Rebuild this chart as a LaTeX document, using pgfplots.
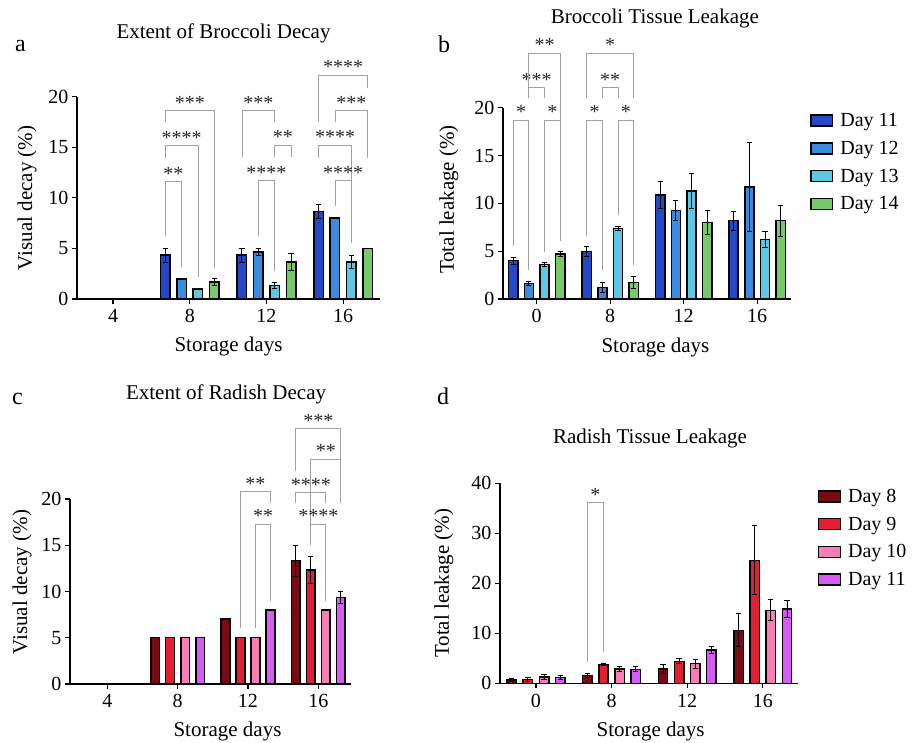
\documentclass[border=0pt]{standalone}
\usepackage{pgfplots}
\pgfplotsset{compat=1.18}
\usepackage{fontspec}
\setmainfont{Liberation Serif}

\definecolor{bA}{HTML}{2349C9}
\definecolor{bB}{HTML}{3A8AE0}
\definecolor{bC}{HTML}{5CC8E3}
\definecolor{bD}{HTML}{78C96A}
\definecolor{rA}{HTML}{7A0A14}
\definecolor{rB}{HTML}{E41E33}
\definecolor{rC}{HTML}{F77EB4}
\definecolor{rD}{HTML}{D95BF5}
\definecolor{brkc}{HTML}{A0A0A0}

\newcommand{\brk}[6]{%
  \draw[brkc, line width=0.8pt] (axis cs:#1,#4) |- node[pos=0.75, anchor=base, inner sep=0pt, yshift=1.5pt, text=black!85, font=\fontsize{20}{24}\selectfont] {#6} (axis cs:#2,#3) -- (axis cs:#2,#5);%
}

\pgfplotsset{
  prism/.style={
    scale only axis,
    anchor=south west,
    axis lines=left,
    axis line style={-, line width=1.3pt, black},
    clip=false,
    ymin=0,
    xtick={0,1,2,3},
    tick align=outside,
    major tick length=5pt,
    tick style={line width=1.3pt, black},
    tick label style={font=\fontsize{20}{24}\selectfont},
    xticklabel style={yshift=-2pt},
    /pgf/number format/assume math mode=true,
    label style={font=\fontsize{21}{25}\selectfont},
    title style={font=\fontsize{21}{25}\selectfont, anchor=base},
    error bars/y dir=both,
    error bars/y explicit,
    error bars/error bar style={line width=0.9pt, black},
    error bars/error mark options={rotate=90, line width=0.9pt, black, mark size=2.6pt},
    legend image code/.code={\draw[##1, line width=1.5pt, draw=black] (0pt,-5.5pt) rectangle (21.7pt,5.5pt);},
    legend style={draw=none, fill=none, anchor=north west, font=\fontsize{20}{24}\selectfont, row sep=9pt, column sep=5pt, inner sep=0pt},
    legend cell align=left,
  },
}

\begin{document}
\begin{tikzpicture}
\useasboundingbox (0pt,0pt) rectangle (913pt,743pt);

% panel letters
\node[anchor=base west, inner sep=0pt, font=\fontsize{24}{28}\selectfont] at (15pt,691pt) {a};
\node[anchor=base west, inner sep=0pt, font=\fontsize{24}{28}\selectfont] at (438pt,690.3pt) {b};
\node[anchor=base west, inner sep=0pt, font=\fontsize{24}{28}\selectfont] at (12pt,338pt) {c};
\node[anchor=base west, inner sep=0pt, font=\fontsize{24}{28}\selectfont] at (437pt,338pt) {d};

% ---------------- panel a
\begin{axis}[prism, at={(77pt,444pt)}, width=303pt, height=202.3pt,
  xmin=-0.47, xmax=3.48, ymax=20, ytick={0,5,10,15,20},
  xticklabels={4,8,12,16},
  title={Extent of Broccoli Decay}, title style={at={(axis description cs:0.4835,1.2556)}},
  xlabel={Storage days}, xlabel style={at={(axis description cs:0.5,0)}, anchor=base, yshift=-53pt},
  ylabel={Visual decay (\%)}, ylabel style={at={(axis description cs:-0.165,0.5)}, anchor=center}]
\addplot[ybar, bar width=0.124, bar shift=0pt, fill=bA, draw=black, line width=1.5pt] table[x=x, y=y, y error=e] {
x y e
-0.32 0 0
0.68 4.33 0.67
1.68 4.33 0.67
2.68 8.67 0.67
};
\addplot[ybar, bar width=0.124, bar shift=0pt, fill=bB, draw=black, line width=1.5pt] table[x=x, y=y, y error=e] {
x y e
-0.107 0 0
0.893 2.0 0
1.893 4.67 0.33
2.893 8.0 0
};
\addplot[ybar, bar width=0.124, bar shift=0pt, fill=bC, draw=black, line width=1.5pt] table[x=x, y=y, y error=e] {
x y e
0.107 0 0
1.107 1.0 0
2.107 1.33 0.33
3.107 3.67 0.67
};
\addplot[ybar, bar width=0.124, bar shift=0pt, fill=bD, draw=black, line width=1.5pt] table[x=x, y=y, y error=e] {
x y e
0.32 0 0
1.32 1.67 0.33
2.32 3.67 0.88
3.32 5.0 0
};
\brk{0.68}{0.893}{11.6}{6.2}{3.2}{**}
\brk{0.68}{1.107}{15.15}{13.9}{2.2}{****}
\brk{0.68}{1.32}{18.6}{17.5}{3.1}{***}
\brk{1.68}{2.107}{18.6}{14.0}{17.5}{***}
\brk{2.107}{2.32}{15.2}{14.0}{14.0}{**}
\brk{1.893}{2.107}{11.7}{6.2}{2.8}{****}
\brk{2.68}{3.32}{22.1}{17.5}{20.9}{****}
\brk{2.893}{3.32}{18.6}{17.5}{13.9}{***}
\brk{2.68}{3.107}{15.2}{13.9}{5.5}{****}
\brk{2.893}{3.107}{11.7}{9.2}{5.5}{****}
\end{axis}

% ---------------- panel b
\begin{axis}[prism, at={(503pt,444pt)}, width=287.7pt, height=191.3pt,
  xmin=-0.459, xmax=3.456, ymax=20, ytick={0,5,10,15,20},
  xticklabels={0,8,12,16},
  title={Broccoli Tissue Leakage}, title style={at={(axis description cs:0.528,1.41)}},
  xlabel={Storage days}, xlabel style={at={(axis description cs:0.53,0)}, anchor=base, yshift=-54pt},
  ylabel={Total leakage (\%)}, ylabel style={at={(axis description cs:-0.188,0.52)}, anchor=center},
  legend style={at={(axis description cs:1.067,0.982)}}]
\addplot[ybar, bar width=0.124, bar shift=0pt, fill=bA, draw=black, line width=1.5pt] table[x=x, y=y, y error=e] {
x y e
-0.32 4.0 0.35
0.68 4.95 0.52
1.68 10.87 1.39
2.68 8.18 0.98
};
\addplot[ybar, bar width=0.124, bar shift=0pt, fill=bB, draw=black, line width=1.5pt] table[x=x, y=y, y error=e] {
x y e
-0.107 1.64 0.2
0.893 1.22 0.55
1.893 9.23 1.04
2.893 11.7 4.63
};
\addplot[ybar, bar width=0.124, bar shift=0pt, fill=bC, draw=black, line width=1.5pt] table[x=x, y=y, y error=e] {
x y e
0.107 3.62 0.2
1.107 7.35 0.2
2.107 11.29 1.84
3.107 6.24 0.8
};
\addplot[ybar, bar width=0.124, bar shift=0pt, fill=bD, draw=black, line width=1.5pt] table[x=x, y=y, y error=e] {
x y e
0.32 4.7 0.28
1.32 1.74 0.66
2.32 8.01 1.29
3.32 8.18 1.6
};
\legend{Day 11, Day 12, Day 13, Day 14}
\brk{-0.32}{-0.107}{18.7}{5.5}{3.0}{*}
\brk{0.107}{0.32}{18.7}{4.9}{6.1}{*}
\brk{-0.107}{0.107}{22.1}{21.0}{21.0}{***}
\brk{-0.107}{0.32}{25.7}{21.0}{18.7}{**}
\brk{0.68}{0.893}{18.7}{6.6}{3.0}{*}
\brk{1.107}{1.32}{18.7}{8.8}{3.55}{*}
\brk{0.893}{1.107}{22.1}{21.0}{21.0}{**}
\brk{0.68}{1.32}{25.7}{21.0}{21.0}{*}
\end{axis}

% ---------------- panel c
\begin{axis}[prism, at={(70pt,59pt)}, width=280.7pt, height=185pt,
  xmin=-0.53, xmax=3.46, ymax=20, ytick={0,5,10,15,20},
  xticklabels={4,8,12,16},
  title={Extent of Radish Decay}, title style={at={(axis description cs:0.556,1.503)}},
  xlabel={Storage days}, xlabel style={at={(axis description cs:0.561,0)}, anchor=base, yshift=-53pt},
  ylabel={Visual decay (\%)}, ylabel style={at={(axis description cs:-0.171,0.55)}, anchor=center}]
\addplot[ybar, bar width=0.124, bar shift=0pt, fill=rA, draw=black, line width=1.5pt] table[x=x, y=y, y error=e] {
x y e
-0.32 0 0
0.68 5.0 0
1.68 7.0 0
2.68 13.33 1.67
};
\addplot[ybar, bar width=0.124, bar shift=0pt, fill=rB, draw=black, line width=1.5pt] table[x=x, y=y, y error=e] {
x y e
-0.107 0 0
0.893 5.0 0
1.893 5.0 0
2.893 12.33 1.5
};
\addplot[ybar, bar width=0.124, bar shift=0pt, fill=rC, draw=black, line width=1.5pt] table[x=x, y=y, y error=e] {
x y e
0.107 0 0
1.107 5.0 0
2.107 5.0 0
3.107 8.0 0
};
\addplot[ybar, bar width=0.124, bar shift=0pt, fill=rD, draw=black, line width=1.5pt] table[x=x, y=y, y error=e] {
x y e
0.32 0 0
1.32 5.0 0
2.32 8.0 0
3.32 9.33 0.67
};
\brk{1.893}{2.32}{20.8}{6.0}{19.6}{**}
\brk{2.107}{2.32}{17.3}{6.0}{9.0}{**}
\brk{2.68}{3.32}{27.6}{23.0}{19.6}{***}
\brk{2.893}{3.32}{24.3}{15.0}{19.6}{**}
\brk{2.68}{3.107}{20.7}{19.6}{19.6}{****}
\brk{2.893}{3.107}{17.3}{15.0}{9.0}{****}
\end{axis}

% ---------------- panel d
\begin{axis}[prism, at={(500pt,59.7pt)}, width=298.3pt, height=200pt,
  xmin=-0.476, xmax=3.47, ymax=40, ytick={0,10,20,30,40},
  xticklabels={0,8,12,16},
  title={Radish Tissue Leakage}, title style={at={(axis description cs:0.503,1.1665)}},
  xlabel={Storage days}, xlabel style={at={(axis description cs:0.505,0)}, anchor=base, yshift=-53.4pt},
  ylabel={Total leakage (\%)}, ylabel style={at={(axis description cs:-0.188,0.5)}, anchor=center},
  legend style={at={(axis description cs:1.065,0.9825)}}]
\addplot[ybar, bar width=0.124, bar shift=0pt, fill=rA, draw=black, line width=1.5pt] table[x=x, y=y, y error=e] {
x y e
-0.32 0.7 0.3
0.68 1.6 0.4
1.68 2.87 0.93
2.68 10.6 3.27
};
\addplot[ybar, bar width=0.124, bar shift=0pt, fill=rB, draw=black, line width=1.5pt] table[x=x, y=y, y error=e] {
x y e
-0.107 0.8 0.45
0.893 3.73 0.2
1.893 4.4 0.47
2.893 24.6 6.87
};
\addplot[ybar, bar width=0.124, bar shift=0pt, fill=rC, draw=black, line width=1.5pt] table[x=x, y=y, y error=e] {
x y e
0.107 1.3 0.45
1.107 2.87 0.47
2.107 3.93 0.87
3.107 14.6 2.07
};
\addplot[ybar, bar width=0.124, bar shift=0pt, fill=rD, draw=black, line width=1.5pt] table[x=x, y=y, y error=e] {
x y e
0.32 1.2 0.35
1.32 2.8 0.53
2.32 6.67 0.67
3.32 14.87 1.73
};
\legend{Day 8, Day 9, Day 10, Day 11}
\brk{0.68}{0.893}{36.1}{4.3}{6.3}{*}
\end{axis}
\end{tikzpicture}
\end{document}
